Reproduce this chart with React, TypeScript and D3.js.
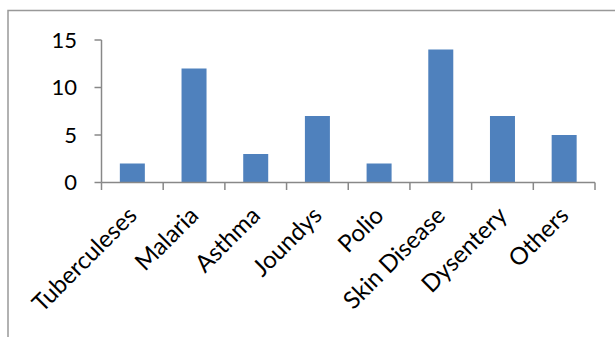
import React from "react";
import * as d3 from "d3";

const categories = ["Tuberculeses", "Malaria", "Asthma", "Joundys", "Polio", "Skin Disease", "Dysentery", "Others"];
const values = [2, 12, 3, 7, 2, 14, 7, 5];
const yTicks = [0, 5, 10, 15];

export default function App() {
  const W = 615, H = 337;
  const x0 = 101.5, x1 = 595, yTop = 40, yBot = 182.5;
  const x = d3.scaleBand<string>().domain(categories).range([x0, x1]).paddingInner(0).paddingOuter(0);
  const y = d3.scaleLinear().domain([0, 15]).range([yBot, yTop]);
  const bw = 25;
  const font = "Lato, 'Open Sans', sans-serif";
  const axisColor = "#888888";
  return (
    <svg width={W} height={H} style={{ position: "absolute", left: 0, top: 0, background: "#fff" }}>
      <rect x={8} y={10.5} width={W + 10} height={H + 10} fill="none" stroke="#999" strokeWidth={1.5} />
      {categories.map((c, i) => {
        const cx = (x(c) as number) + x.bandwidth() / 2;
        return <rect key={c} x={cx - bw / 2} y={y(values[i])} width={bw} height={yBot - y(values[i])} fill="#4F81BD" />;
      })}
      <line x1={x0} x2={x0} y1={yTop} y2={yBot} stroke={axisColor} strokeWidth={1.5} />
      <line x1={x0} x2={x1} y1={yBot} y2={yBot} stroke={axisColor} strokeWidth={1.5} />
      {yTicks.map((t) => (
        <g key={t}>
          <line x1={x0 - 7} x2={x0} y1={y(t)} y2={y(t)} stroke={axisColor} strokeWidth={1.5} />
          <text x={77} y={y(t)} dy="0.35em" textAnchor="end" fontFamily={font} fontSize={22} fill="#000">{t}</text>
        </g>
      ))}
      {d3.range(categories.length + 1).map((i) => {
        const tx = x0 + i * x.step();
        return <line key={i} x1={tx} x2={tx} y1={yBot} y2={yBot + 7.5} stroke={axisColor} strokeWidth={1.5} />;
      })}
      {categories.map((c) => {
        const cx = (x(c) as number) + x.bandwidth() / 2;
        const ax = cx + 6, ay = 217;
        return (
          <text key={c} x={ax} y={ay} textAnchor="end" fontFamily={font} fontSize={24} fill="#000" transform={`rotate(-45 ${ax} ${ay})`}>{c}</text>
        );
      })}
    </svg>
  );
}
